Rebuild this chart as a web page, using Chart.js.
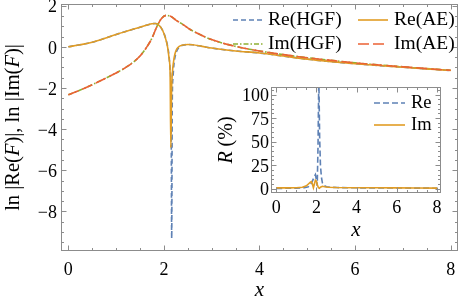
<!DOCTYPE html>
<html><head><meta charset="utf-8">
<script src="https://cdn.jsdelivr.net/npm/chart.js@4.4.1/dist/chart.umd.min.js"></script>
<style>
html,body{margin:0;padding:0;background:#fff;}
#wrap{position:relative;width:460px;height:302px;overflow:hidden;}
#main{position:absolute;left:0;top:0;}
#inset{position:absolute;left:215px;top:80px;}
</style></head><body>
<div id="wrap"><canvas id="main" width="460" height="302"></canvas><canvas id="inset" width="240" height="170"></canvas></div>
<script>
// ---- main panel data: ln|Re(F)|, ln|Im(F)| ----
const reX   = [0,0.25,0.5,0.75,1.0,1.25,1.5,1.65,1.75,1.82,1.88,1.94,2.0,2.04,2.08,2.11,2.13,2.15,2.163,2.175,2.19,2.21,2.24,2.28,2.33,2.4,2.5,2.6,2.8,3.0,3.5,4.0,4.5,5.0,5.5,6.0,6.5,7.0,7.5,8.0];
const reHGF = [0,0.1,0.22,0.4,0.6,0.78,0.95,1.06,1.12,1.13,1.08,0.93,0.66,0.38,0.0,-0.5,-1.1,-2.3,-9.3,-2.6,-1.5,-0.85,-0.42,-0.15,0.0,0.08,0.11,0.1,0.02,-0.06,-0.2,-0.3,-0.45,-0.6,-0.72,-0.82,-0.91,-0.99,-1.07,-1.15];
const reAEX = [0,0.25,0.5,0.75,1.0,1.25,1.5,1.65,1.75,1.82,1.88,1.94,2.0,2.04,2.08,2.11,2.13,2.145,2.16,2.18,2.2,2.23,2.27,2.32,2.4,2.5,2.6,2.8,3.0,3.5,4.0,4.5,5.0,5.5,6.0,6.5,7.0,7.5,8.0];
const reAE  = [0,0.1,0.22,0.4,0.6,0.78,0.95,1.06,1.12,1.13,1.08,0.93,0.65,0.36,-0.05,-0.6,-1.3,-4.9,-2.2,-1.2,-0.75,-0.35,-0.1,0.02,0.09,0.11,0.1,0.02,-0.06,-0.2,-0.3,-0.45,-0.6,-0.72,-0.82,-0.91,-0.99,-1.07,-1.15];
const imX   = [0,0.25,0.5,0.75,1.0,1.25,1.5,1.65,1.75,1.85,1.95,2.05,2.15,2.25,2.4,2.55,2.7,2.9,3.2,3.6,4.0,4.5,5.0,5.5,6.0,6.5,7.0,7.5,8.0];
const imHGF = [-2.33,-2.1,-1.84,-1.56,-1.27,-0.93,-0.45,0.02,0.42,0.97,1.38,1.53,1.47,1.3,1.08,0.84,0.66,0.44,0.2,-0.03,-0.2,-0.38,-0.53,-0.66,-0.78,-0.88,-0.97,-1.06,-1.14];
const imAE  = [-2.33,-2.1,-1.84,-1.56,-1.27,-0.93,-0.45,0.02,0.42,0.97,1.38,1.53,1.47,1.3,1.08,0.84,0.66,0.44,0.2,-0.03,-0.2,-0.38,-0.53,-0.66,-0.78,-0.88,-0.97,-1.06,-1.14];
const mainXTicks = [0,2,4,6,8];
const mainYTicks = [-8,-6,-4,-2,0,2];

// ---- inset data: R (%) ----
const insReX = [0,0.5,1.0,1.4,1.6,1.7,1.8,1.9,1.95,2.0,2.04,2.08,2.12,2.16,2.2,2.25,2.3,2.4,2.5,2.7,3.0,4.0,5.0,6.0,7.0,8.0];
const insRe  = [0.3,0.4,0.6,1.0,2.0,4.0,8.0,13,15,9,3,45,120,55,25,12,6,3,2,1.5,1.2,0.9,0.8,0.7,0.6,0.5];
const insImX = [0,0.5,1.0,1.3,1.5,1.6,1.7,1.75,1.8,1.85,1.9,1.95,2.0,2.05,2.1,2.15,2.2,2.3,2.4,2.6,3.0,4.0,5.0,6.0,7.0,8.0];
const insIm  = [0.8,0.8,0.9,1.5,3.0,5.0,7.0,7.5,5.0,1.0,5.0,9.0,8.0,4.0,1.0,0.5,1.5,2.5,2.0,1.5,1.2,1.0,0.9,0.8,0.7,0.6];
const insXTicks = [0,2,4,6,8];
const insYTicks = [0,25,50,75,100];

const FONT = "'Liberation Serif','Times New Roman',serif";
const C = {blue:'#5E81B5', orange:'#E19C24', green:'#8FB032', red:'#EB6235'};
const pts = (xs, ys) => xs.map((x,i)=>({x:x, y:ys[i]}));
const fmt = v => (v<0 ? '\u2212'+Math.abs(v) : ''+v);
const range = (a,b,s) => { const r=[]; for(let v=a; v<=b+1e-9; v+=s) r.push(+v.toFixed(4)); return r; };

function richText(ctx, parts, x, y, size, rot) {
  ctx.save();
  ctx.translate(x, y);
  if (rot) ctx.rotate(rot);
  let total = 0;
  parts.forEach(p => { ctx.font = (p.i?'italic ':'') + size + 'px ' + FONT; p.w = ctx.measureText(p.t).width; total += p.w; });
  let cx = -total/2;
  ctx.textBaseline = 'middle'; ctx.textAlign = 'left'; ctx.fillStyle = '#000';
  parts.forEach(p => { ctx.font = (p.i?'italic ':'') + size + 'px ' + FONT; ctx.fillText(p.t, cx, 0); cx += p.w; });
  ctx.restore();
}
function legendLine(ctx, x1, x2, y, ds) {
  ctx.save();
  ctx.strokeStyle = ds.borderColor; ctx.lineWidth = ds.borderWidth;
  ctx.setLineDash(ds.borderDash || []);
  ctx.beginPath(); ctx.moveTo(x1, y); ctx.lineTo(x2, y); ctx.stroke();
  ctx.restore();
}
function legendText(ctx, t, x, y, size) {
  ctx.save();
  ctx.font = size + 'px ' + FONT; ctx.fillStyle = '#000';
  ctx.textBaseline = 'middle'; ctx.textAlign = 'left';
  ctx.fillText(t, x, y);
  ctx.restore();
}

function framePlugin(cfg) {
  return {
    id: 'frame_' + cfg.name,
    beforeDraw(chart) {
      if (!cfg.bg) return;
      const a = chart.chartArea, ctx = chart.ctx;
      ctx.save(); ctx.fillStyle = '#fff';
      ctx.fillRect(a.left, a.top, a.right - a.left, a.bottom - a.top);
      ctx.restore();
    },
    afterDraw(chart) {
      const ctx = chart.ctx, a = chart.chartArea, xs = chart.scales.x, ys = chart.scales.y;
      ctx.save();
      ctx.strokeStyle = '#8c8c8c'; ctx.lineWidth = 1; ctx.setLineDash([]);
      const L = Math.round(a.left)+0.5, R = Math.round(a.right)-0.5, T = Math.round(a.top)+0.5, B = Math.round(a.bottom)-0.5;
      ctx.strokeRect(L, T, R-L, B-T);
      ctx.beginPath();
      const tick = (vals, len, isX) => vals.forEach(v => {
        if (isX) {
          const p = Math.round(xs.getPixelForValue(v)) + 0.5;
          if (p < L || p > R) return;
          ctx.moveTo(p, B); ctx.lineTo(p, B - len);
          ctx.moveTo(p, T); ctx.lineTo(p, T + len);
        } else {
          const p = Math.round(ys.getPixelForValue(v)) + 0.5;
          if (p < T || p > B) return;
          ctx.moveTo(L, p); ctx.lineTo(L + len, p);
          ctx.moveTo(R, p); ctx.lineTo(R - len, p);
        }
      });
      tick(cfg.xMajor, 5, true); tick(cfg.xMinor, 2.5, true);
      tick(cfg.yMajor, 5, false); tick(cfg.yMinor, 2.5, false);
      ctx.stroke();
      ctx.restore();
      if (cfg.extra) cfg.extra(chart, ctx);
    }
  };
}

function baseScales(xmin, xmax, ymin, ymax, xt, yt, xw, yw, fs, xpad, ypad) {
  return {
    x: { type:'linear', min:xmin, max:xmax,
         afterBuildTicks: s => { s.ticks = xt.map(v=>({value:v})); },
         afterFit: s => { s.height = xw; s.paddingLeft = 0; s.paddingRight = 0; s.paddingTop = 0; s.paddingBottom = 0; },
         grid:{display:false, drawTicks:false}, border:{display:false},
         ticks:{ callback: v => fmt(v), font:{family:FONT, size:fs}, color:'#000', padding:xpad, maxRotation:0, autoSkip:false } },
    y: { type:'linear', min:ymin, max:ymax,
         afterBuildTicks: s => { s.ticks = yt.map(v=>({value:v})); },
         afterFit: s => { s.width = yw; s.paddingLeft = 0; s.paddingRight = 0; s.paddingTop = 0; s.paddingBottom = 0; },
         grid:{display:false, drawTicks:false}, border:{display:false},
         ticks:{ callback: v => fmt(v), font:{family:FONT, size:fs}, color:'#000', padding:ypad, labelOffset:2, autoSkip:false } }
  };
}

const mainDatasets = [
  { label:'Im(AE)',  data:pts(imX, imAE),   borderColor:C.red,    borderWidth:1.6, borderDash:[11,4] },
  { label:'Re(AE)',  data:pts(reAEX, reAE), borderColor:C.orange, borderWidth:1.6 },
  { label:'Im(HGF)', data:pts(imX, imHGF),  borderColor:C.green,  borderWidth:1.6, borderDash:[5,2,1.5,2] },
  { label:'Re(HGF)', data:pts(reX, reHGF),  borderColor:C.blue,   borderWidth:1.6, borderDash:[5,3] }
];
mainDatasets.forEach(d => { d.showLine = true; d.pointRadius = 0; d.fill = false; d.cubicInterpolationMode = 'monotone'; });

new Chart(document.getElementById('main'), {
  type:'scatter',
  data:{ datasets: mainDatasets },
  options:{
    responsive:false, animation:false, devicePixelRatio:1,
    layout:{ padding:{ top:4, right:2, left:0, bottom:0 } },
    plugins:{ legend:{display:false}, tooltip:{enabled:false} },
    scales: baseScales(-0.153, 8.153, -9.92, 2.08, mainXTicks, mainYTicks, 51, 61, 18, 8, 4)
  },
  plugins:[ framePlugin({
    name:'main', xMajor:mainXTicks, xMinor:range(0,8,0.5), yMajor:mainYTicks, yMinor:range(-9.5,2,0.5),
    extra:(chart, ctx) => {
      const a = chart.chartArea;
      richText(ctx, [{t:'ln |Re('},{t:'F',i:1},{t:')|, ln |Im('},{t:'F',i:1},{t:')|'}], 14, (a.top+a.bottom)/2, 20.5, -Math.PI/2);
      richText(ctx, [{t:'x',i:1}], (a.left+a.right)/2, 290, 21);
      const ds = chart.data.datasets;
      legendLine(ctx, 233, 263, 20, ds[3]); legendText(ctx, 'Re(HGF)', 268, 20, 19.5);
      legendLine(ctx, 358, 388, 20, ds[1]); legendText(ctx, 'Re(AE)', 394, 20, 19.5);
      legendLine(ctx, 233, 263, 44, ds[2]); legendText(ctx, 'Im(HGF)', 268, 44, 19.5);
      legendLine(ctx, 358, 388, 44, ds[0]); legendText(ctx, 'Im(AE)', 394, 44, 19.5);
    }
  }) ]
});

const insDatasets = [
  { label:'Im', data:pts(insImX, insIm), borderColor:C.orange, borderWidth:1.6 },
  { label:'Re', data:pts(insReX, insRe), borderColor:C.blue,   borderWidth:1.6, borderDash:[6,3] }
];
insDatasets.forEach(d => { d.showLine = true; d.pointRadius = 0; d.fill = false; });

new Chart(document.getElementById('inset'), {
  type:'scatter',
  data:{ datasets: insDatasets },
  options:{
    responsive:false, animation:false, devicePixelRatio:1,
    layout:{ padding:{ top:7, right:14, left:0, bottom:0 } },
    plugins:{ legend:{display:false}, tooltip:{enabled:false} },
    scales: baseScales(-0.26, 8.2, -4.6, 108, insXTicks, insYTicks, 57, 56, 18, 4, 2)
  },
  plugins:[ framePlugin({
    name:'inset', bg:true, xMajor:insXTicks, xMinor:range(0,8,0.5), yMajor:insYTicks, yMinor:range(0,105,5),
    extra:(chart, ctx) => {
      const a = chart.chartArea;
      richText(ctx, [{t:'R',i:1},{t:' (%)'}], 12, (a.top+a.bottom)/2, 20, -Math.PI/2);
      richText(ctx, [{t:'x',i:1}], (a.left+a.right)/2, 150, 21);
      const ds = chart.data.datasets;
      legendLine(ctx, 159, 190, 23, ds[1]); legendText(ctx, 'Re', 196, 23, 18.5);
      legendLine(ctx, 159, 190, 45, ds[0]); legendText(ctx, 'Im', 196, 45, 18.5);
    }
  }) ]
});
</script>
</body></html>
